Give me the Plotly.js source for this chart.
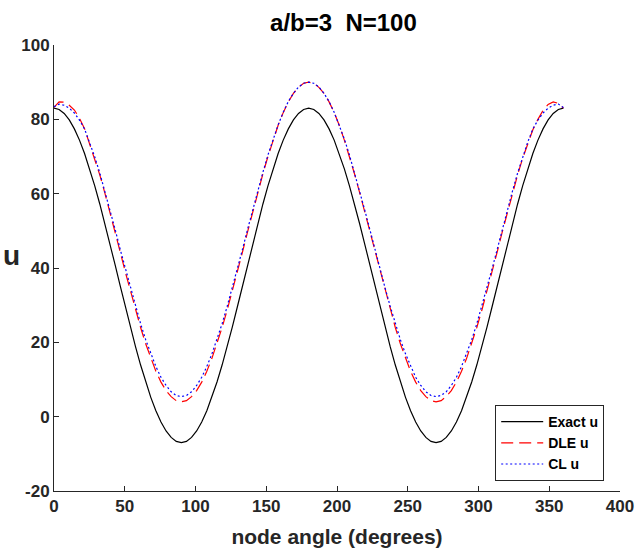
<!DOCTYPE html>
<html>
<head>
<meta charset="utf-8">
<script src="https://cdn.plot.ly/plotly-3.0.1.min.js"></script>
<style>html,body{margin:0;padding:0;background:#fff;}#chart{width:636px;height:554px;}</style>
</head>
<body>
<div id="chart"></div>
<script>
const angles = [0,3.6,7.2,10.8,14.4,18,21.6,25.2,28.8,32.4,36,39.6,43.2,46.8,50.4,54,57.6,61.2,64.8,68.4,72,75.6,79.2,82.8,86.4,90,93.6,97.2,100.8,104.4,108,111.6,115.2,118.8,122.4,126,129.6,133.2,136.8,140.4,144,147.6,151.2,154.8,158.4,162,165.6,169.2,172.8,176.4,180,183.6,187.2,190.8,194.4,198,201.6,205.2,208.8,212.4,216,219.6,223.2,226.8,230.4,234,237.6,241.2,244.8,248.4,252,255.6,259.2,262.8,266.4,270,273.6,277.2,280.8,284.4,288,291.6,295.2,298.8,302.4,306,309.6,313.2,316.8,320.4,324,327.6,331.2,334.8,338.4,342,345.6,349.2,352.8,356.4,360];

const exactU = [83.00,82.65,81.59,79.84,77.43,74.41,70.80,66.68,62.11,57.16,51.91,46.43,40.83,35.17,29.57,24.09,18.84,13.89,9.32,5.20,1.59,-1.43,-3.84,-5.59,-6.65,-7.00,
-6.65,-5.59,-3.84,-1.43,1.59,5.20,9.32,13.89,18.84,24.09,29.57,35.17,40.83,46.43,51.91,57.16,62.11,66.68,70.80,74.41,77.43,79.84,81.59,82.65,83.00,
82.65,81.59,79.84,77.43,74.41,70.80,66.68,62.11,57.16,51.91,46.43,40.83,35.17,29.57,24.09,18.84,13.89,9.32,5.20,1.59,-1.43,-3.84,-5.59,-6.65,-7.00,
-6.65,-5.59,-3.84,-1.43,1.59,5.20,9.32,13.89,18.84,24.09,29.57,35.17,40.83,46.43,51.91,57.16,62.11,66.68,70.80,74.41,77.43,79.84,81.59,82.65,83.00];

const dleU = [83.2,84.7,84.6,83.8,82.5,80.3,77.5,73.3,69.5,65.0,60.1,55.0,49.7,44.3,38.9,33.7,28.7,24.0,19.6,15.7,12.2,9.3,7.0,5.4,4.3,4.0,
4.3,5.4,7.0,9.3,12.2,15.7,19.6,24.0,28.7,33.7,38.9,44.3,49.7,55.1,60.3,65.3,70.0,74.4,78.4,81.8,84.7,87.0,88.6,89.7,90.0,
89.7,88.6,87.0,84.7,81.8,78.4,74.4,70.0,65.3,60.3,55.1,49.7,44.3,38.9,33.7,28.7,24.0,19.6,15.7,12.2,9.3,7.0,5.4,4.3,4.0,
4.3,5.4,7.0,9.3,12.2,15.7,19.6,24.0,28.7,33.7,38.9,44.3,49.7,55.0,60.1,65.0,69.5,73.4,77.2,80.0,82.4,84.0,84.7,84.3,83.0];

const clU = [83.4,84.1,83.8,83.0,81.7,79.8,77.4,73.9,69.9,65.5,60.7,55.6,50.4,45.0,39.8,34.6,29.7,25.0,20.7,16.9,13.5,10.6,8.4,6.7,5.7,5.4,
5.7,6.7,8.4,10.6,13.5,16.9,20.7,25.0,29.7,34.6,39.8,45.0,50.4,55.6,60.8,65.7,70.4,74.7,78.5,81.9,84.8,87.0,88.7,89.7,90.0,
89.7,88.7,87.0,84.8,81.9,78.5,74.7,70.4,65.7,60.8,55.6,50.4,45.0,39.8,34.6,29.7,25.0,20.7,16.9,13.5,10.6,8.4,6.7,5.7,5.4,
5.7,6.7,8.4,10.6,13.5,16.9,20.7,25.0,29.7,34.6,39.8,45.0,50.4,55.6,60.7,65.5,69.9,73.9,77.4,79.8,81.7,83.0,83.8,84.1,83.2];

const seriesNames = ['Exact u', 'DLE u', 'CL u'];
const xTicks = [0,50,100,150,200,250,300,350,400];
const yTicks = [-20,0,20,40,60,80,100];

const FONT = 'Liberation Sans, Arial, Helvetica, sans-serif';

const traces = [
  {x: angles, y: exactU, name: seriesNames[0], type: 'scatter', mode: 'lines',
   line: {color: '#000000', width: 1.2}},
  {x: angles, y: dleU, name: seriesNames[1], type: 'scatter', mode: 'lines',
   line: {color: '#ff0000', width: 1.2, dash: '12px,6px'}},
  {x: angles, y: clU, name: seriesNames[2], type: 'scatter', mode: 'lines',
   line: {color: '#0000ff', width: 1.2, dash: '2px,2.5px'}}
];

const axisCommon = {
  showline: true, linecolor: '#262626', linewidth: 1, mirror: false,
  ticks: 'inside', ticklen: 5, tickcolor: '#262626', tickwidth: 1,
  showgrid: false, zeroline: false,
  tickfont: {family: FONT, size: 17, color: '#262626', weight: 'bold'}
};

const layout = {
  width: 636, height: 554,
  margin: {l: 54, r: 16, t: 45, b: 63, pad: 0},
  paper_bgcolor: '#ffffff', plot_bgcolor: '#ffffff',
  font: {family: FONT, color: '#000000'},
  title: {text: '<b>a/b=3  N=100</b>', x: 0.54, xanchor: 'center', y: 0.96, yanchor: 'middle',
          font: {family: FONT, size: 24, color: '#000000'}},
  xaxis: Object.assign({}, axisCommon, {
    range: [0, 400], tickvals: xTicks, ticktext: xTicks.map(String),
    title: {text: '<b>node angle (degrees)</b>', font: {family: FONT, size: 21, color: '#262626'}, standoff: 13}
  }),
  yaxis: Object.assign({}, axisCommon, {
    range: [-20, 100], tickvals: yTicks, ticktext: yTicks.map(String)
  }),
  annotations: [{
    text: '<b>u</b>', xref: 'paper', yref: 'paper', x: -0.075, y: 0.528,
    xanchor: 'center', yanchor: 'middle', showarrow: false,
    font: {family: FONT, size: 28, color: '#262626'}
  }],
  showlegend: true,
  legend: {
    x: 0.7795, y: 0.1928, xanchor: 'left', yanchor: 'top',
    bgcolor: '#ffffff', bordercolor: '#262626', borderwidth: 1,
    font: {family: FONT, size: 14, color: '#000000', weight: 'bold'},
    itemwidth: 42, tracegroupgap: 0
  }
};

Plotly.newPlot('chart', traces, layout, {displayModeBar: false, staticPlot: true});
</script>
</body>
</html>
